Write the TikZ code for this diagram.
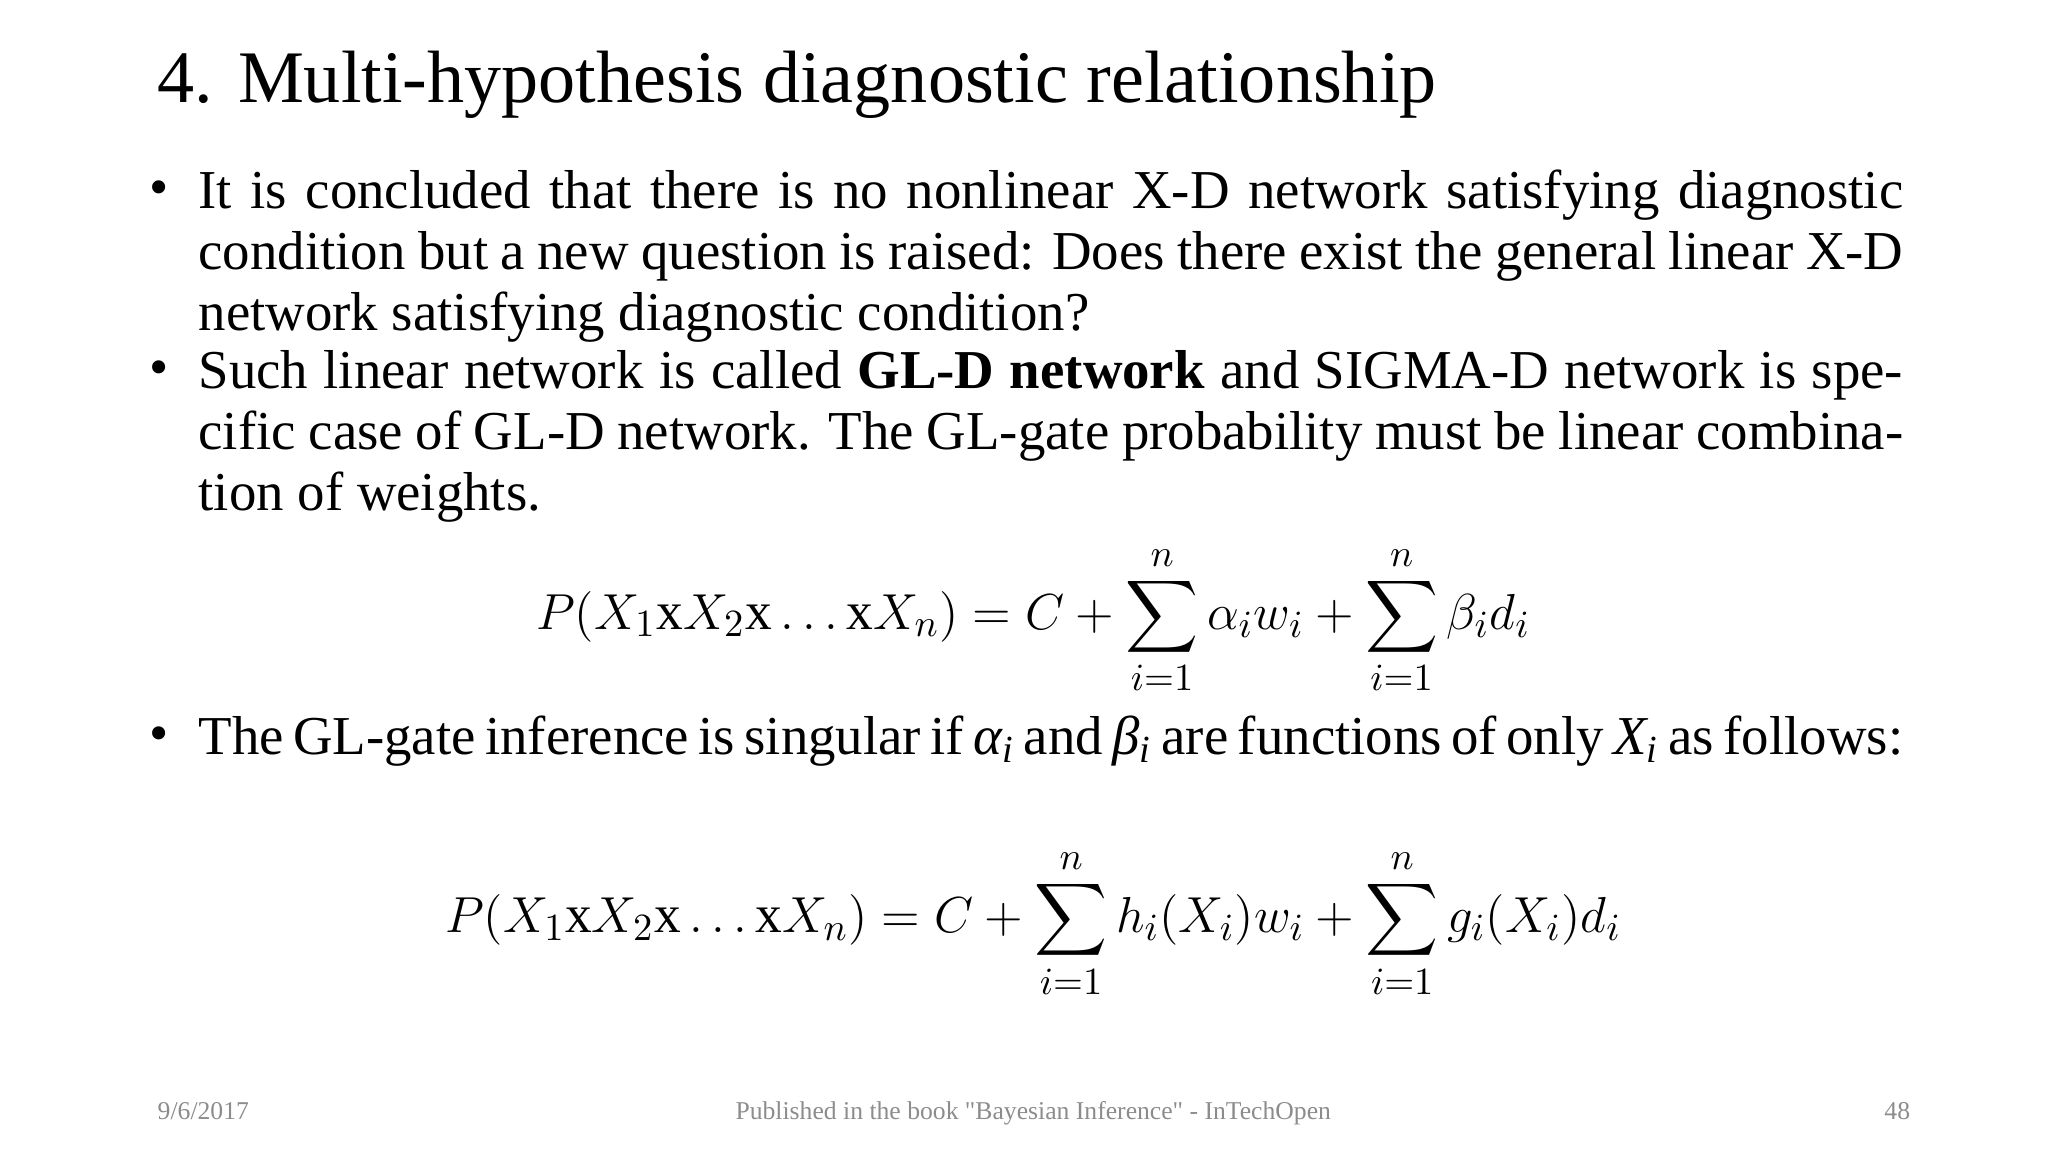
\documentclass[tikz,border=0pt]{standalone}
\usepackage{fontspec}
\setmainfont{Liberation Serif}
\usepackage{amsmath}
\newcommand{\blt}{\llap{\raisebox{0.05em}{•}\hspace{0.55em}}}
\begin{document}
\begin{tikzpicture}[x=0.013196cm,y=-0.013196cm,
  para/.style={anchor=north west,inner sep=0pt,text width=17.05cm,align=justify,font=\fontsize{15.6}{17.4}\selectfont},
  eq/.style={inner sep=0pt,font=\fontsize{15.2}{18}\selectfont},
  foot/.style={inner sep=0pt,text=black!45,font=\fontsize{7.3}{9}\selectfont}]
\useasboundingbox (0,0) rectangle (1552,873);
\node[anchor=base west,inner sep=0pt,font=\fontsize{21.1}{25}\selectfont] (title) at (119,78) {4. Multi-hypothesis diagnostic relationship};
\node[para] (p1) at (150,128) {\hyphenpenalty=10000\emergencystretch=3em\blt It is concluded that there is no nonlinear X-D network satisfying diagnostic condition but a new question is raised: Does there exist the general linear X-D network satisfying diagnostic condition?};
\node[para] (p2) at (150,265) {\hyphenpenalty=10000\emergencystretch=3em\blt Such linear network is called \textbf{GL-D network} and SIGMA-D network is specific case of GL-D network. The GL-gate probability must be linear combination of weights.};
\node[eq] (e1) at (783,470) {$\displaystyle P(X_1\mathrm{x}X_2\mathrm{x}\ldots\mathrm{x}X_n)=C+\sum_{i=1}^{n}\alpha_i w_i+\sum_{i=1}^{n}\beta_i d_i$};
\node[para] (p3) at (150,542) {\hyphenpenalty=10000\emergencystretch=3em\blt The GL-gate inference is singular if \textit{α\textsubscript{i}} and \textit{β\textsubscript{i}} are functions of only \textit{X\textsubscript{i}} as follows:};
\node[eq] (e2) at (783,700) {$\displaystyle P(X_1\mathrm{x}X_2\mathrm{x}\ldots\mathrm{x}X_n)=C+\sum_{i=1}^{n}h_i(X_i)w_i+\sum_{i=1}^{n}g_i(X_i)d_i$};
\node[foot,anchor=base west] (f1) at (119,848) {9/6/2017};
\node[foot,anchor=base] (f2) at (783,848) {Published in the book \textquotedbl Bayesian Inference\textquotedbl{} - InTechOpen};
\node[foot,anchor=base east] (f3) at (1448,848) {48};
\end{tikzpicture}
\end{document}
